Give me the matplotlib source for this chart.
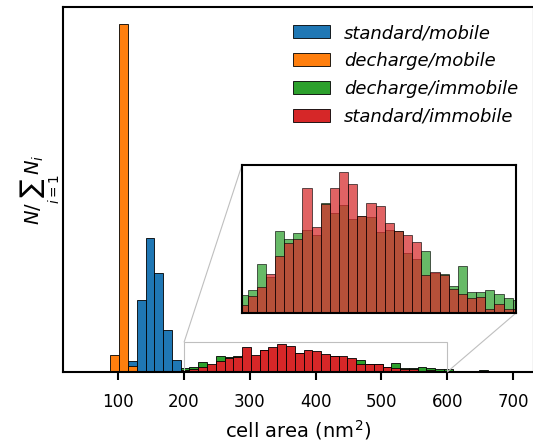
import numpy as np
import matplotlib
matplotlib.use("Agg")
import matplotlib.pyplot as plt
from mpl_toolkits.axes_grid1.inset_locator import mark_inset

# common bin edges (nm^2)
binStart = 88.2
binWidth = 13.34
nBins = 47
binEdges = binStart + binWidth * np.arange(nBins + 1)

# normalized counts N / sum(N_i) per bin index (0 .. 46)
standardMobile = {2: 0.0296, 3: 0.194, 4: 0.361, 5: 0.267, 6: 0.113, 7: 0.032}
dechargeMobile = {0: 0.0458, 1: 0.938, 2: 0.0162}
dechargeImmobile = {
    8: 0.0096, 9: 0.0127, 10: 0.0263, 11: 0.0194, 12: 0.0444, 13: 0.0399,
    14: 0.0432, 15: 0.0450, 16: 0.0421, 17: 0.0593, 18: 0.0541, 19: 0.0586,
    20: 0.0508, 21: 0.0522, 22: 0.0519, 23: 0.0437, 24: 0.0450, 25: 0.0444,
    26: 0.0323, 27: 0.0294, 28: 0.0336, 29: 0.0216, 30: 0.0212, 31: 0.0145,
    32: 0.0256, 33: 0.0112, 34: 0.0112, 35: 0.0127, 36: 0.0105, 37: 0.0083,
    38: 0.0069, 39: 0.0020, 40: 0.0010, 42: 0.0045, 43: 0.0020, 44: 0.0008,
    45: 0.0008,
}
standardImmobile = {
    8: 0.0045, 9: 0.0094, 10: 0.0138, 11: 0.0209, 12: 0.0307, 13: 0.0379,
    14: 0.0401, 15: 0.0677, 16: 0.0464, 17: 0.0590, 18: 0.0677, 19: 0.0764,
    20: 0.0695, 21: 0.0526, 22: 0.0593, 23: 0.0579, 24: 0.0486, 25: 0.0441,
    26: 0.0421, 27: 0.0386, 28: 0.0203, 29: 0.0219, 30: 0.0203, 31: 0.0132,
    32: 0.0102, 33: 0.0082, 34: 0.0087, 35: 0.0024, 36: 0.0051, 37: 0.0020,
    38: 0.0024,
}

series = [
    ("standard/mobile", standardMobile, "tab:blue"),
    ("decharge/mobile", dechargeMobile, "tab:orange"),
    ("decharge/immobile", dechargeImmobile, "tab:green"),
    ("standard/immobile", standardImmobile, "tab:red"),
]


def toHeights(binDict):
    heights = np.zeros(nBins)
    for k, v in binDict.items():
        heights[k] = v
    return heights


def drawHist(ax, heights, color, label=None, alpha=1.0):
    ax.bar(binEdges[:-1], heights, width=binWidth, align="edge", color=color,
           edgecolor="k", linewidth=0.6, alpha=alpha, label=label)


plt.rcParams["font.size"] = 12
fig = plt.figure(figsize=(5.33, 4.46), dpi=100)
ax = fig.add_axes([63 / 533, 74 / 446, 471 / 533, 365 / 446])

for label, binDict, color in series:
    drawHist(ax, toHeights(binDict), color, label=label)

ax.set_xlim(16, 732)
ax.set_xticks([100, 200, 300, 400, 500, 600, 700])
ax.set_yticks([])
ax.set_xlabel("cell area (nm$^2$)", fontsize=14, labelpad=5)
ax.set_ylabel(r"$N/\sum_{i=1} N_i$", fontsize=14, labelpad=0.5)
ax.tick_params(axis="x", length=6, width=1.5, pad=9)
for sp in ax.spines.values():
    sp.set_linewidth(1.5)

ax.legend(loc="upper left", bbox_to_anchor=(283.5 / 533, 1 - 15 / 446),
          bbox_transform=fig.transFigure, frameon=False, borderpad=0,
          handlelength=2.05, labelspacing=0.55,
          prop={"style": "italic", "size": 13})

# zoomed inset for the immobile cells
axins = fig.add_axes([242 / 533, 133 / 446, 274 / 533, 148 / 446])
for label, binDict, color in series[2:]:
    drawHist(axins, toHeights(binDict), color, alpha=0.72)
axins.set_xlim(200, 600)
axins.set_ylim(0, 0.08)
axins.set_xticks([])
axins.set_yticks([])
for sp in axins.spines.values():
    sp.set_linewidth(1.5)

mark_inset(ax, axins, loc1=2, loc2=4, fc="none", ec="0.75", lw=0.8)

fig.savefig("out.png", dpi=100)
